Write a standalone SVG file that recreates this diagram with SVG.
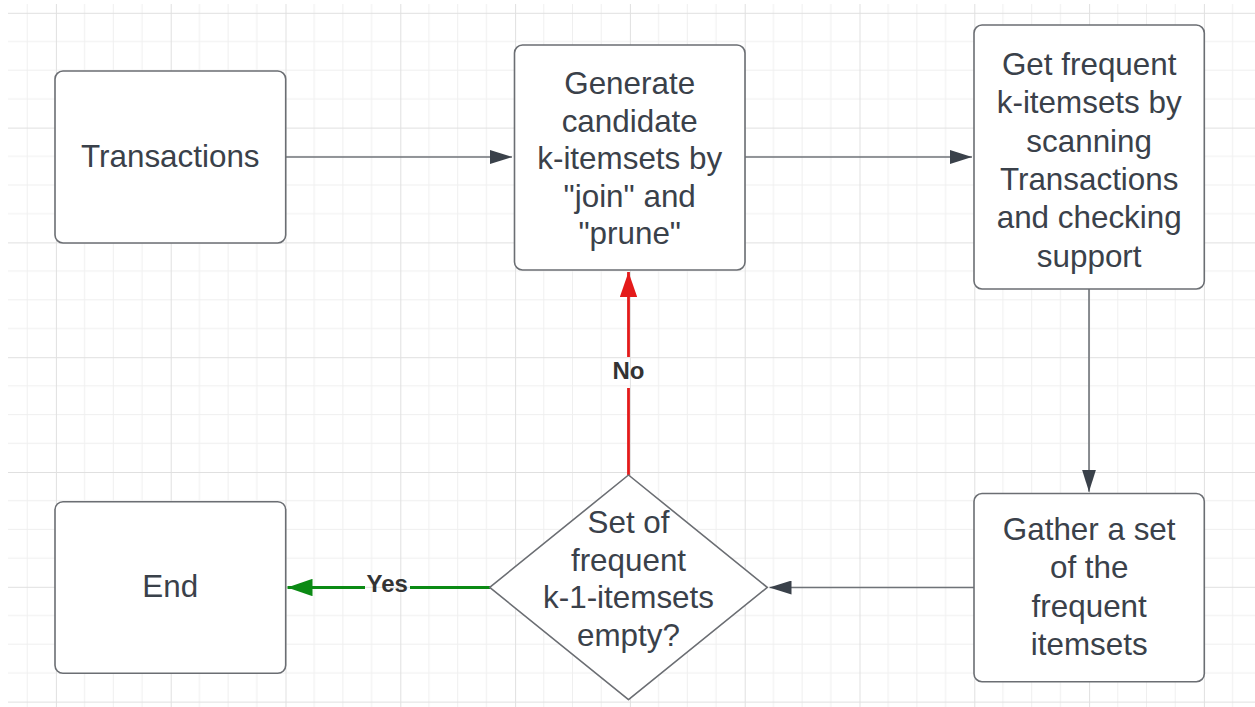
<svg xmlns="http://www.w3.org/2000/svg" width="1255" height="707" viewBox="0 0 1255 707">
<style>
.box{fill:#ffffff;stroke:#6b6e73;stroke-width:1.6}
.dia{fill:#ffffff;stroke:#6b6e73;stroke-width:1.6;stroke-linejoin:round}
.t{font-family:"Liberation Sans",Arial,sans-serif;font-size:31.4px;fill:#3a414a;text-anchor:middle}
.lbl{font-family:"Liberation Sans",Arial,sans-serif;font-size:24px;font-weight:bold;fill:#333333;text-anchor:middle}
.gray{fill:none;stroke:#6f7378;stroke-width:1.6}
.red{fill:none;stroke:#e41a1a;stroke-width:2.8}
.green{fill:none;stroke:#0b8a14;stroke-width:2.8}
</style>
<defs>
<pattern id="grid" patternUnits="userSpaceOnUse" x="55.9" y="12.8" width="114.8" height="114.8">
<rect x="28.2" y="0" width="1" height="114.8" fill="#efefef"/>
<rect x="56.9" y="0" width="1" height="114.8" fill="#efefef"/>
<rect x="85.6" y="0" width="1" height="114.8" fill="#efefef"/>
<rect x="0" y="28.2" width="114.8" height="1" fill="#efefef"/>
<rect x="0" y="56.9" width="114.8" height="1" fill="#efefef"/>
<rect x="0" y="85.6" width="114.8" height="1" fill="#efefef"/>
<rect x="0" y="0" width="1" height="114.8" fill="#e0e0e0"/>
<rect x="0" y="0" width="114.8" height="1" fill="#e0e0e0"/>
</pattern>
<marker id="ag" markerUnits="userSpaceOnUse" markerWidth="22" markerHeight="14" refX="22" refY="7" orient="auto">
<path d="M0,0 L22,7 L0,14 Z" fill="#3a414a"/>
</marker>
<marker id="ar" markerUnits="userSpaceOnUse" markerWidth="25" markerHeight="17.4" refX="25" refY="8.7" orient="auto">
<path d="M0,0 L25,8.7 L0,17.4 Z" fill="#e41a1a"/>
</marker>
<marker id="agr" markerUnits="userSpaceOnUse" markerWidth="25" markerHeight="17.4" refX="25" refY="8.7" orient="auto">
<path d="M0,0 L25,8.7 L0,17.4 Z" fill="#0b8a14"/>
</marker>
</defs>
<rect width="1255" height="707" fill="#ffffff"/>
<rect x="8" y="4" width="1247" height="703" fill="url(#grid)"/>

<g id="connectors">
<path class="gray" d="M285.7,157 H512" marker-end="url(#ag)"/>
<path class="gray" d="M745,157 H972" marker-end="url(#ag)"/>
<path class="gray" d="M1089,289 V491.7" marker-end="url(#ag)"/>
<path class="gray" d="M974,587.5 H769.5" marker-end="url(#ag)"/>
<path class="green" d="M490,587.5 H410"/>
<path class="green" d="M365,587.5 H287.5" marker-end="url(#agr)"/>
<text class="lbl" x="387.2" y="592.3">Yes</text>
<path class="red" d="M628.5,475 V388"/>
<path class="red" d="M628.5,357 V272" marker-end="url(#ar)"/>
<text class="lbl" x="628.5" y="379">No</text>
</g>

<g id="node-transactions">
<rect class="box" x="55" y="71" width="230.7" height="172" rx="8"/>
<text class="t" x="170.3" y="166.7">Transactions</text>
</g>

<g id="node-generate">
<rect class="box" x="514.5" y="45" width="230.5" height="225" rx="8"/>
<text class="t" x="629.7" y="94">Generate</text>
<text class="t" x="629.7" y="131.6">candidate</text>
<text class="t" x="629.7" y="169.2">k-itemsets by</text>
<text class="t" x="629.7" y="206.8">"join" and</text>
<text class="t" x="629.7" y="244.4">"prune"</text>
</g>

<g id="node-getfrequent">
<rect class="box" x="974" y="25" width="230.3" height="264" rx="8"/>
<text class="t" x="1089.2" y="75">Get frequent</text>
<text class="t" x="1089.2" y="113.3">k-itemsets by</text>
<text class="t" x="1089.2" y="151.6">scanning</text>
<text class="t" x="1089.2" y="189.9">Transactions</text>
<text class="t" x="1089.2" y="228.2">and checking</text>
<text class="t" x="1089.2" y="266.5">support</text>
</g>

<g id="node-gather">
<rect class="box" x="974" y="493.5" width="230.3" height="188.2" rx="8"/>
<text class="t" x="1089.2" y="540">Gather a set</text>
<text class="t" x="1089.2" y="578.3">of the</text>
<text class="t" x="1089.2" y="616.6">frequent</text>
<text class="t" x="1089.2" y="654.9">itemsets</text>
</g>

<g id="node-decision">
<path class="dia" d="M628.5,475 L767.3,587.4 L628.5,699.6 L489.7,587.4 Z"/>
<text class="t" x="628.5" y="533">Set of</text>
<text class="t" x="628.5" y="570.7">frequent</text>
<text class="t" x="628.5" y="608.4">k-1-itemsets</text>
<text class="t" x="628.5" y="646.1">empty?</text>
</g>

<g id="node-end">
<rect class="box" x="55" y="501.7" width="230.7" height="171.6" rx="8"/>
<text class="t" x="170.3" y="596.7">End</text>
</g>
</svg>
